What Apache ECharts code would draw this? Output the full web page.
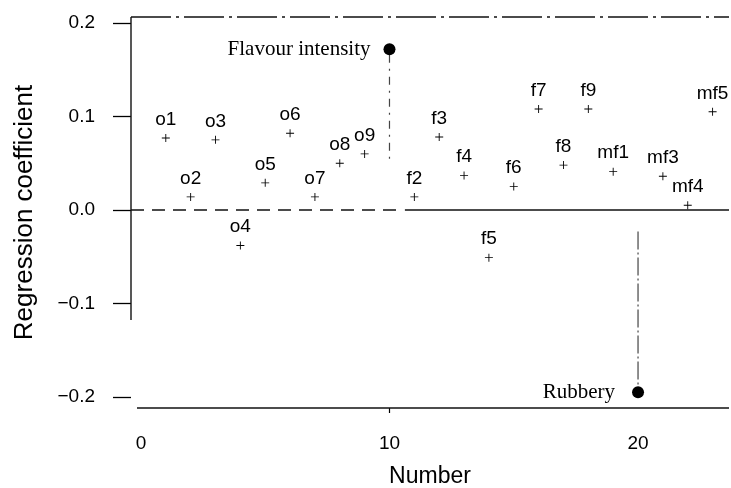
<!DOCTYPE html>
<html>
<head>
<meta charset="utf-8">
<script src="https://cdn.jsdelivr.net/npm/echarts@6/dist/echarts.min.js"></script>
<style>
html,body{margin:0;padding:0;background:#fff;}
#chart{width:731px;height:488px;}
</style>
</head>
<body>
<div id="chart"></div>
<script>
// ---- data ----
const pointNames   = ['o1','o2','o3','o4','o5','o6','o7','o8','o9','f2','f3','f4','f5','f6','f7','f8','f9','mf1','mf3','mf4','mf5'];
const pointNumbers = [1,2,3,4,5,6,7,8,9,11,12,13,14,15,16,17,18,19,21,22,23];
const pointValues  = [0.077,0.014,0.075,-0.038,0.029,0.082,0.014,0.050,0.060,0.014,0.078,0.037,-0.051,0.025,0.108,0.048,0.108,0.041,0.036,0.005,0.105];

const highlightNames   = ['Flavour intensity','Rubbery'];
const highlightNumbers = [10,20];
const highlightValues  = [0.172,-0.195];

// visible stem segments (dash-dot drop lines) for the highlighted points
const stemTop    = [0.166,-0.023];
const stemBottom = [0.053,-0.187];

const xTicks = [0,10,20];
const xTickLabels = ['0','10','20'];
const yTicks = [-0.2,-0.1,0,0.1,0.2];
const yTickLabels = ['\u22120.2','\u22120.1','0.0','0.1','0.2'];

const xMin = -0.4, xMax = 23.66;
const yMin = -0.2118, yMax = 0.2064;

// ---- chart ----
const chart = echarts.init(document.getElementById('chart'), null, {renderer:'canvas'});
const sans = 'Liberation Sans, Arial, sans-serif';
const serif = 'Liberation Serif, Times New Roman, serif';
const plusPath = 'path://M4,0h1v4h4v1h-4v4h-1v-4h-4v-1h4z';

function nearestLabel(v, ticks, labels){
  let best = 0;
  for (let i=1;i<ticks.length;i++) if (Math.abs(ticks[i]-v) < Math.abs(ticks[best]-v)) best = i;
  return labels[best];
}
function lineSeries(data, type, width, color){
  return {
    type:'line', data:data, symbol:'none', silent:true, clip:false, z:1,
    lineStyle:{color:color||'#000', width:width||1.2, type:type||'solid', opacity:1},
    animation:false
  };
}

const series = [];
// frame: top (dash-dot), left axis (solid, partial), bottom axis
series.push(lineSeries([[xMin,yMax],[xMax,yMax]], [40,5,3,5], 1.3, '#111'));
series.push(lineSeries([[xMin,yMax],[xMin,-0.1176]], 'solid', 1.4, '#111'));
series.push(lineSeries([[-0.16,yMin],[xMax,yMin]], 'solid', 1.4, '#111'));
// zero line: dashed left part, solid right part
series.push(lineSeries([[xMin,0],[10.42,0]], [13,8], 1.3, '#111'));
series.push(lineSeries([[10.62,0],[xMax,0]], 'solid', 1.3, '#111'));
// stems
series.push(lineSeries([[highlightNumbers[0],stemTop[0]],[highlightNumbers[0],stemBottom[0]]], [8,6,2,6], 1.2, '#444'));
series.push(lineSeries([[highlightNumbers[1],stemTop[1]],[highlightNumbers[1],stemBottom[1]]], [18,3,2,3], 1.2, '#444'));

// labelled plus markers
series.push({
  type:'scatter', z:3, animation:false,
  symbol:plusPath, symbolSize:8,
  itemStyle:{color:'#000', opacity:1},
  data: pointNumbers.map((x,i)=>({name:pointNames[i], value:[x, pointValues[i]]})),
  label:{show:true, position:'top', distance:5, formatter:'{b}', fontFamily:sans, fontSize:19, color:'#000'}
});

// highlighted filled points
const hlDistance = [13,17];
series.push({
  type:'scatter', z:4, animation:false,
  symbol:'circle', symbolSize:12,
  itemStyle:{color:'#000', opacity:1},
  data: highlightNumbers.map((x,i)=>({
    name:highlightNames[i], value:[x, highlightValues[i]],
    label:{show:true, position:'left', distance:hlDistance[i], formatter:'{b}', fontFamily:serif, fontSize:21, color:'#000'}
  }))
});

chart.setOption({
  backgroundColor:'#fff',
  animation:false,
  grid:{left:131, right:2, top:17, bottom:80, containLabel:false, outerBoundsMode:'none'},
  xAxis:{
    type:'value', min:xMin, max:xMax,
    axisLine:{show:false, onZero:false}, splitLine:{show:false},
    axisTick:{show:true, customValues:[10], length:5, lineStyle:{color:'#000', width:1.2}},
    axisLabel:{customValues:xTicks, formatter:v=>nearestLabel(v,xTicks,xTickLabels), fontFamily:sans, fontSize:19, color:'#000', margin:26},
    name:'Number', nameLocation:'middle', nameGap:57,
    nameTextStyle:{fontFamily:sans, fontSize:23, color:'#000'}
  },
  yAxis:{
    type:'value', min:yMin, max:yMax,
    axisLine:{show:false, onZero:false}, splitLine:{show:false},
    axisTick:{show:true, customValues:yTicks, length:18, lineStyle:{color:'#000', width:1.3}},
    axisLabel:{customValues:yTicks, formatter:v=>nearestLabel(v,yTicks,yTickLabels), fontFamily:sans, fontSize:19, color:'#000', margin:36},
    name:'Regression coefficient', nameLocation:'middle', nameGap:93,
    nameTextStyle:{fontFamily:sans, fontSize:26, color:'#000'}
  },
  series:series
});
</script>
</body>
</html>
